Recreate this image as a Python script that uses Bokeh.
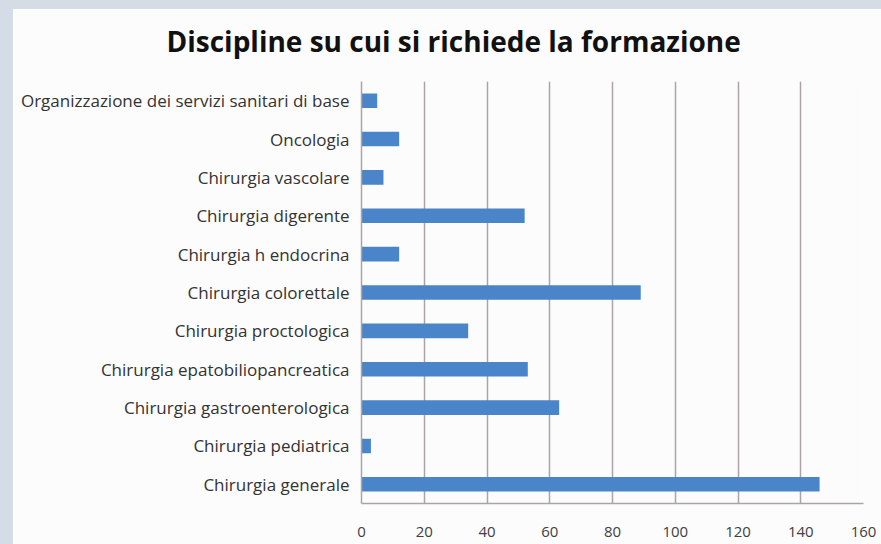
from bokeh.plotting import figure
from bokeh.models import FactorRange, Range1d, FixedTicker, Spacer, Title
from bokeh.layouts import row, column
from bokeh.embed import file_html
from bokeh.resources import INLINE

title_text = "Discipline su cui si richiede la formazione"
categories = [
    "Organizzazione dei servizi sanitari di base",
    "Oncologia",
    "Chirurgia vascolare",
    "Chirurgia digerente",
    "Chirurgia h endocrina",
    "Chirurgia colorettale",
    "Chirurgia proctologica",
    "Chirurgia epatobiliopancreatica",
    "Chirurgia gastroenterologica",
    "Chirurgia pediatrica",
    "Chirurgia generale",
]
values = [5, 12, 7, 52, 12, 89, 34, 53, 63, 3, 146]
x_ticks = [0, 20, 40, 60, 80, 100, 120, 140, 160]

GRID = "#aca4a4"
BAR = "#4a85c9"
PANEL = "#fcfcfc"
PAGE = "#d4dde6"
FONT = "Open Sans"

p = figure(
    width=868, height=535,
    y_range=FactorRange(factors=categories[::-1], range_padding=0),
    x_range=Range1d(x_ticks[0], x_ticks[-1]),
    output_backend="svg", toolbar_location=None,
    min_border_left=348, min_border_right=18,
    min_border_top=72, min_border_bottom=41,
)
p.background_fill_color = PANEL
p.border_fill_color = PANEL
p.outline_line_color = None

p.hbar(y=categories, left=0, right=values, height=0.38,
       fill_color=BAR, line_color=None)

# small blank band between the title and the plot frame
p.add_layout(Title(text=" ", text_font_size="4px", standoff=4), "above")

# title
p.title.text = title_text
p.title.align = "left"
p.title.offset = -195
p.title.vertical_align = "top"
p.title.standoff = 18
p.title.text_font = FONT
p.title.text_font_style = "bold"
p.title.text_font_size = "28px"
p.title.text_color = "#111111"

# x axis
xa = p.xaxis[0]
xa.ticker = FixedTicker(ticks=x_ticks)
xa.major_tick_line_color = None
xa.minor_tick_line_color = None
xa.major_tick_out = 0
xa.major_tick_in = 0
xa.axis_line_color = GRID
xa.axis_line_width = 1.5
xa.major_label_standoff = 23
xa.major_label_text_font = FONT
xa.major_label_text_font_size = "15px"
xa.major_label_text_color = "#404040"

# y axis
ya = p.yaxis[0]
ya.major_tick_line_color = None
ya.minor_tick_line_color = None
ya.major_tick_out = 0
ya.major_tick_in = 0
ya.axis_line_color = GRID
ya.axis_line_width = 1.5
ya.major_label_standoff = 12
ya.major_label_text_font = FONT
ya.major_label_text_font_size = "17px"
ya.major_label_text_color = "#333333"

# grids
p.ygrid.grid_line_color = None
p.xgrid.ticker = FixedTicker(ticks=x_ticks)
p.xgrid.grid_line_color = GRID
p.xgrid.grid_line_width = 1.5

top_strip = Spacer(width=881, height=9, styles={"background-color": PAGE})
left_strip = Spacer(width=13, height=535, styles={"background-color": PAGE})
layout = column(top_strip, row(left_strip, p), spacing=0)

open("out.html", "w").write(file_html(layout, INLINE))
